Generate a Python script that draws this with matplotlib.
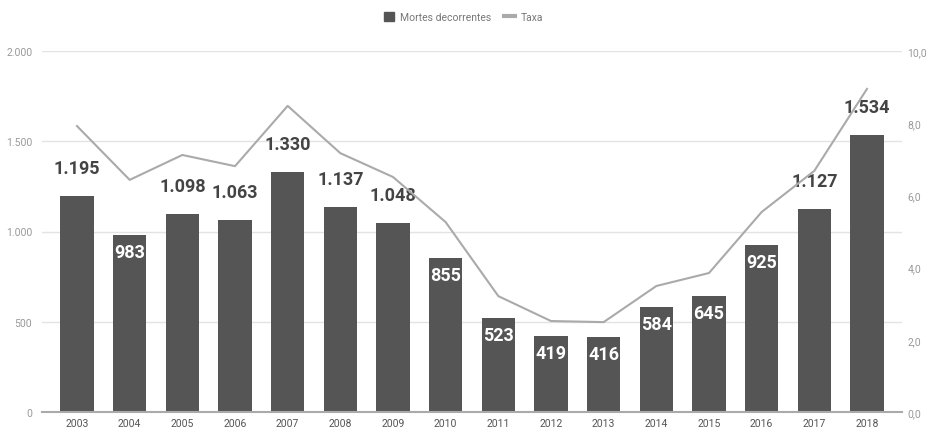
import matplotlib
matplotlib.use("Agg")
import matplotlib.pyplot as plt
import numpy as np

years = ["2003", "2004", "2005", "2006", "2007", "2008", "2009", "2010",
         "2011", "2012", "2013", "2014", "2015", "2016", "2017", "2018"]
mortes = [1195, 983, 1098, 1063, 1330, 1137, 1048, 855, 523, 419, 416, 584, 645, 925, 1127, 1534]
taxa = [7.92, 6.43, 7.12, 6.81, 8.48, 7.17, 6.51, 5.26, 3.21, 2.52, 2.49, 3.49, 3.85, 5.54, 6.68, 8.95]
left_ticks = [0, 500, 1000, 1500, 2000]
right_ticks = [0, 2, 4, 6, 8, 10]

plt.rcParams['font.family'] = ['Roboto', 'DejaVu Sans']

fig = plt.figure(figsize=(9.27, 4.31), dpi=100)
ax = fig.add_axes([42/927, 1-413/431, 860/927, 361/431])
ax2 = ax.twinx()

x = np.arange(len(years))
bar_color = "#555555"
ax.bar(x, mortes, width=0.63, color=bar_color, zorder=2, label="Mortes decorrentes")
ax.set_ylim(0, 2000)
ax.set_xlim(-0.665, len(years) - 1 + 0.665)
ax.set_yticks(left_ticks)
ax.set_yticklabels([f"{v:,}".replace(",", ".") for v in left_ticks])
ax.set_xticks(x)
ax.set_xticklabels(years)
ax.grid(axis="y", color="#e3e3e3", linewidth=1, zorder=0)
ax.set_axisbelow(True)
for s in ["left", "right", "top"]:
    ax.spines[s].set_visible(False)
ax.spines["bottom"].set_color("#aaaaaa")
ax.spines["bottom"].set_linewidth(1.5)
ax.tick_params(axis="y", length=0, labelsize=7.5, labelcolor="#999999", pad=7)
ax.tick_params(axis="x", length=0, labelsize=7.5, labelcolor="#555555", pad=4)

for xi, v in zip(x, mortes):
    txt = f"{v:,}".replace(",", ".")
    if v >= 1000:
        ax.annotate(txt, (xi, v), xytext=(0, 28), textcoords="offset points" if False else "offset pixels",
                    ha="center", va="center", fontsize=13, fontweight="bold", color="#444444", zorder=5)
    else:
        ax.annotate(txt, (xi, v), xytext=(0, -17), textcoords="offset pixels",
                    ha="center", va="center", fontsize=13, fontweight="bold", color="white", zorder=5)

ax2.plot(x, taxa, color="#aaaaaa", linewidth=1.5, zorder=3, label="Taxa")
ax2.set_ylim(0, 10)
ax2.set_yticks(right_ticks)
ax2.set_yticklabels([f"{v:.1f}".replace(".", ",") for v in right_ticks])
for s in ["left", "right", "top", "bottom"]:
    ax2.spines[s].set_visible(False)
ax2.tick_params(axis="y", length=0, labelsize=7.5, labelcolor="#999999", pad=4)

from matplotlib.patches import Patch
from matplotlib.lines import Line2D
handles = [Patch(facecolor=bar_color, edgecolor=bar_color),
           Line2D([0], [0], color="#aaaaaa", linewidth=3)]
leg = fig.legend(handles, ["Mortes decorrentes", "Taxa"], loc="center", bbox_to_anchor=(0.5, 18/431 * -1 + 1),
                 ncol=2, frameon=False, fontsize=7.5, handlelength=1.0, handleheight=1.0,
                 columnspacing=1.2, handletextpad=0.6)
for t in leg.get_texts():
    t.set_color("#777777")

fig.savefig("out.png", dpi=100)
